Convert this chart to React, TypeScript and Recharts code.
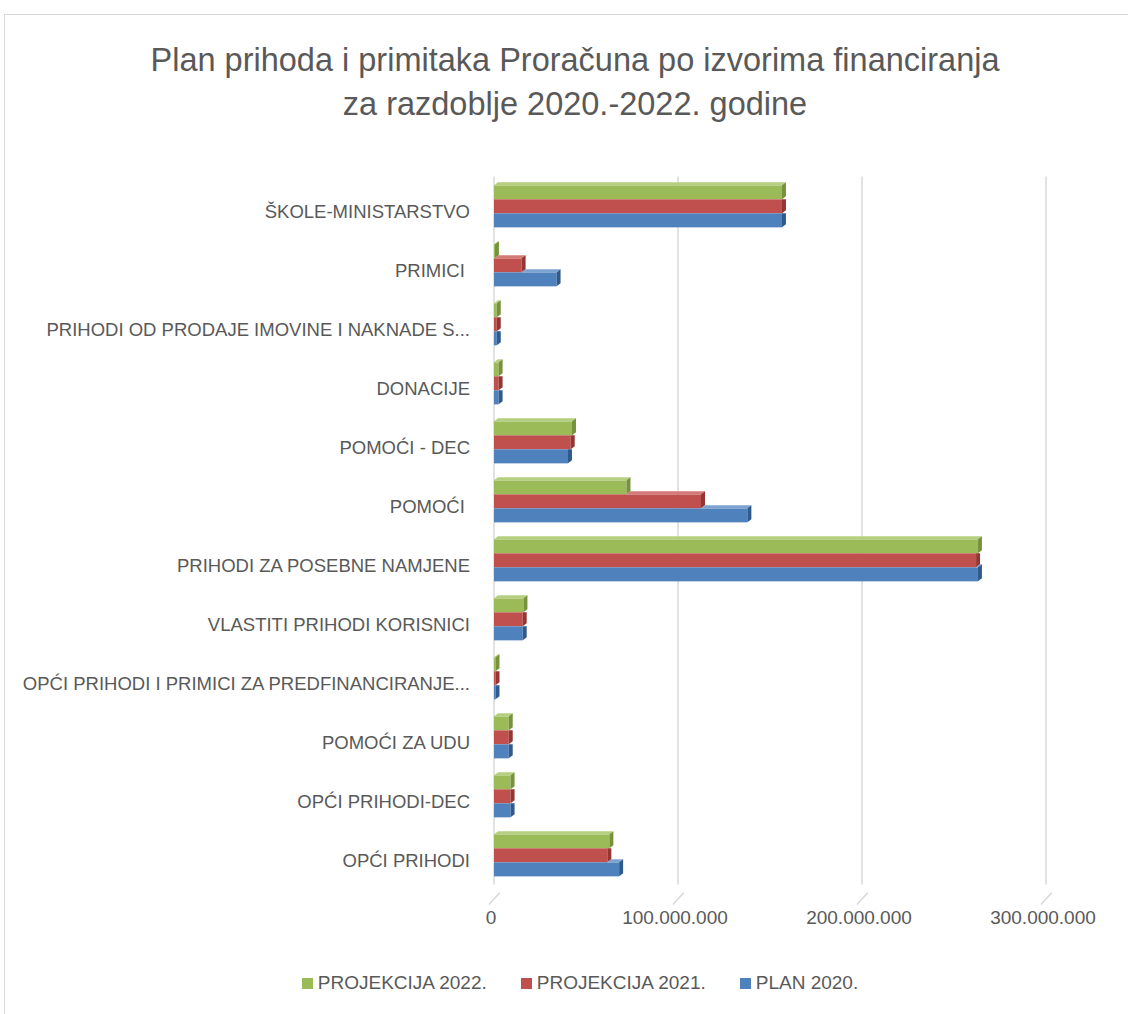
import React from 'react';
import { BarChart, Bar, XAxis, YAxis, CartesianGrid } from 'recharts';

const categories = [
  'ŠKOLE-MINISTARSTVO',
  'PRIMICI\u00A0',
  'PRIHODI OD PRODAJE IMOVINE I NAKNADE S...',
  'DONACIJE',
  'POMOĆI - DEC',
  'POMOĆI\u00A0',
  'PRIHODI ZA POSEBNE NAMJENE',
  'VLASTITI PRIHODI KORISNICI',
  'OPĆI PRIHODI I PRIMICI ZA PREDFINANCIRANJE...',
  'POMOĆI ZA UDU',
  'OPĆI PRIHODI-DEC',
  'OPĆI PRIHODI',
];

const plan2020 = [156.5e6, 34e6, 1.5e6, 2.5e6, 40.2e6, 137.7e6, 263e6, 15.6e6, 0.8e6, 8e6, 9e6, 68e6];
const proj2021 = [156.5e6, 15e6, 1.5e6, 2.5e6, 41.7e6, 112.5e6, 262e6, 15.6e6, 0.8e6, 8e6, 9e6, 61.6e6];
const proj2022 = [156.5e6, 0.5e6, 1.5e6, 2.5e6, 42.4e6, 72e6, 263e6, 16e6, 0.8e6, 8e6, 9e6, 62.7e6];

const xTicks = [0, 100e6, 200e6, 300e6];

const data = categories.map((name, i) => ({
  name,
  p2022: proj2022[i],
  p2021: proj2021[i],
  p2020: plan2020[i],
}));

const FONT = '"Liberation Sans", Arial, sans-serif';
const TEXT = '#595959';

const SERIES = [
  { key: 'p2022', label: 'PROJEKCIJA 2022.', fill: '#9BBB59', top: '#B4CF7E', side: '#76923C', above: null },
  { key: 'p2021', label: 'PROJEKCIJA 2021.', fill: '#C0504D', top: '#D37A77', side: '#943634', above: 'p2022' },
  { key: 'p2020', label: 'PLAN 2020.', fill: '#4F81BD', top: '#7DA2D0', side: '#2F5A8C', above: 'p2021' },
];

const fmt = (v: number) => (v === 0 ? '0' : v.toLocaleString('de-DE'));

// bar with a little 3d end and top face
function make3D(key: string, above: string | null, fill: string, top: string, side: string) {
  return (props: any) => {
    const { x, y, width, height, payload } = props;
    const d = 4;
    const e = 3;
    const val = payload[key];
    const scale = val > 0 ? width / val : 0;
    const aw = above ? payload[above] * scale : -1;
    const right = x + width;
    const parts: React.ReactNode[] = [];
    parts.push(<rect key="f" x={x} y={y} width={Math.max(width, 0)} height={height} fill={fill} />);
    if (above === null || aw < width) {
      const sx = above === null ? x : x + aw;
      parts.push(
        <polygon
          key="t"
          points={`${sx},${y} ${sx + d},${y - e} ${right + d},${y - e} ${right},${y}`}
          fill={top}
        />
      );
    }
    const covered = above !== null && aw >= width;
    parts.push(
      <polygon
        key="s"
        points={
          covered
            ? `${right},${y} ${right + d},${y} ${right + d},${y + height - e} ${right},${y + height}`
            : `${right},${y} ${right + d},${y - e} ${right + d},${y + height - e} ${right},${y + height}`
        }
        fill={side}
      />
    );
    return <g>{parts}</g>;
  };
}

const XTick = (props: any) => {
  const { x, y, payload } = props;
  return (
    <g>
      <line x1={x + 6} y1={y} x2={x - 5} y2={y + 12} stroke="#D9D9D9" strokeWidth={1.5} />
      <text x={x - 3} y={y + 31} textAnchor="middle" fill={TEXT} fontSize={19} fontFamily={FONT}>
        {fmt(payload.value)}
      </text>
    </g>
  );
};

const YTick = (props: any) => {
  const { x, y, payload } = props;
  return (
    <text x={x} y={y + 12} textAnchor="end" fill={TEXT} fontSize={18.5} fontFamily={FONT}>
      {payload.value}
    </text>
  );
};

export default function App() {
  return (
    <div style={{ position: 'absolute', left: 0, top: 0, width: 1128, height: 1014, background: '#fff', overflow: 'hidden' }}>
      <div
        style={{
          position: 'absolute',
          left: 4,
          top: 14,
          width: 1140,
          height: 1020,
          border: '1.5px solid #D9D9D9',
        }}
      />
      <div
        style={{
          position: 'absolute',
          left: 0,
          top: 38,
          width: 1150,
          textAlign: 'center',
          fontFamily: FONT,
          fontSize: 32.5,
          color: TEXT,
          lineHeight: '44px',
        }}
      >
        Plan prihoda i primitaka Proračuna po izvorima financiranja
        <br />
        za razdoblje 2020.-2022. godine
      </div>
      <BarChart
        width={1128}
        height={1014}
        data={data}
        layout="vertical"
        margin={{ top: 176.5, right: 82, bottom: 69.5, left: 10 }}
        barCategoryGap="15%"
        barGap={0}
        style={{ position: 'absolute', left: 0, top: 0 }}
      >
        <CartesianGrid horizontal={false} stroke="#D9D9D9" strokeWidth={1.5} />
        <XAxis
          type="number"
          domain={[0, 300e6]}
          ticks={xTicks}
          axisLine={false}
          tickLine={false}
          tick={<XTick />}
          height={60}
          interval={0}
        />
        <YAxis
          type="category"
          dataKey="name"
          width={484}
          axisLine={false}
          tickLine={false}
          tickMargin={18}
          interval={0}
          tick={<YTick />}
        />
        {SERIES.map((s) => (
          <Bar
            key={s.key}
            dataKey={s.key}
            name={s.label}
            fill={s.fill}
            isAnimationActive={false}
            shape={make3D(s.key, s.above, s.fill, s.top, s.side)}
          />
        ))}
      </BarChart>
      <div
        style={{
          position: 'absolute',
          left: 0,
          top: 972,
          width: 1160,
          display: 'flex',
          justifyContent: 'center',
          gap: 34,
          fontFamily: FONT,
          fontSize: 19,
          color: TEXT,
        }}
      >
        {SERIES.map((s) => (
          <div key={s.key} style={{ display: 'flex', alignItems: 'center' }}>
            <span style={{ display: 'inline-block', width: 11, height: 11, background: s.fill, marginRight: 5 }} />
            {s.label}
          </div>
        ))}
      </div>
    </div>
  );
}
